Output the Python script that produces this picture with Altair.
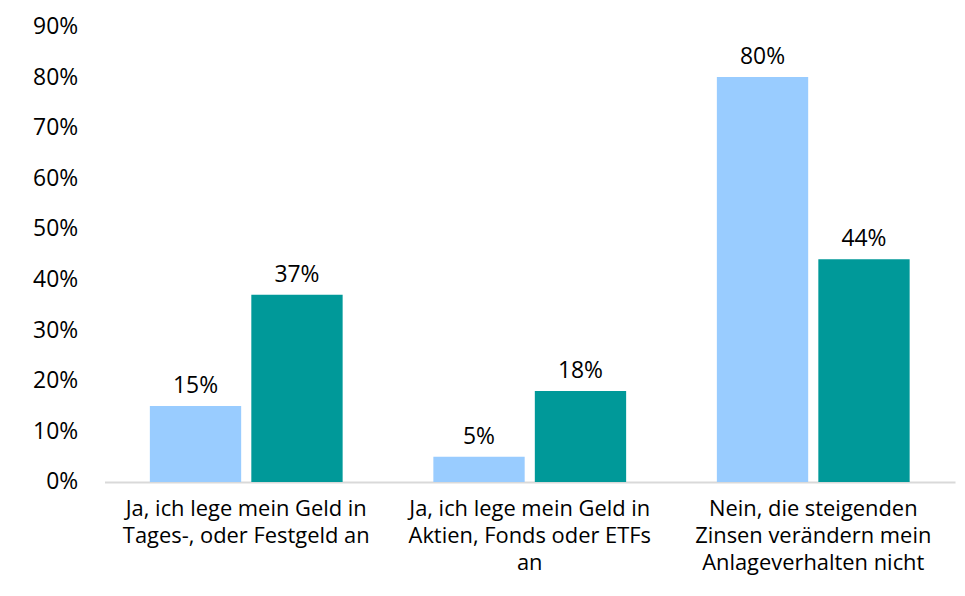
import altair as alt
import pandas as pd

categories = [
    "Ja, ich lege mein Geld in|Tages-, oder Festgeld an",
    "Ja, ich lege mein Geld in|Aktien, Fonds oder ETFs|an",
    "Nein, die steigenden|Zinsen verändern mein|Anlageverhalten nicht",
]
series = ["Gruppe 1", "Gruppe 2"]
values_1 = [0.15, 0.05, 0.80]
values_2 = [0.37, 0.18, 0.44]
colors = ["#99CCFF", "#009999"]
y_ticks = [0, 0.1, 0.2, 0.3, 0.4, 0.5, 0.6, 0.7, 0.8, 0.9]

rows = []
for i, c in enumerate(categories):
    rows.append({"cat": c, "series": series[0], "value": values_1[i], "order": i})
    rows.append({"cat": c, "series": series[1], "value": values_2[i], "order": i})
df = pd.DataFrame(rows)

FONT = "Open Sans"
FS = 23

x = alt.X(
    "cat:N",
    sort=categories,
    scale=alt.Scale(paddingInner=0.32, paddingOuter=0.16),
    axis=alt.Axis(
        title=None,
        labelAngle=0,
        labelExpr="split(datum.label, '|')",
        labelFont=FONT,
        labelFontSize=22,
        labelColor="#000000",
        labelLineHeight=27,
        labelPadding=17,
        ticks=False,
        domainColor="#D9D9D9",
        domainWidth=2,
        labelLimit=400,
    ),
)
xoff = alt.XOffset("series:N", sort=series, scale=alt.Scale(paddingInner=0.1))
y = alt.Y(
    "value:Q",
    scale=alt.Scale(domain=[0, 0.9], nice=False),
    axis=alt.Axis(
        title=None,
        values=y_ticks,
        format=".0%",
        labelFont=FONT,
        labelFontSize=FS,
        labelColor="#000000",
        labelPadding=27,
        ticks=False,
        domain=False,
        grid=False,
    ),
)
color = alt.Color(
    "series:N",
    sort=series,
    scale=alt.Scale(domain=series, range=colors),
    legend=None,
)

bars = alt.Chart(df).mark_bar().encode(x=x, xOffset=xoff, y=y, color=color)
labels = alt.Chart(df).mark_text(
    baseline="bottom", dy=-8, font=FONT, fontSize=FS, color="#000000"
).encode(
    x=x,
    xOffset=xoff,
    y=y,
    text=alt.Text("value:Q", format=".0%"),
)

chart = (
    alt.layer(bars, labels)
    .properties(
        width=855,
        height=458,
        autosize=alt.AutoSizeParams(type="none"),
        padding={"left": 97, "top": 17, "right": 2, "bottom": 105},
        background="white",
    )
    .configure_view(strokeWidth=0, stroke=None)
)

chart.save("out.html", embed_options={"renderer": "svg", "actions": False})
